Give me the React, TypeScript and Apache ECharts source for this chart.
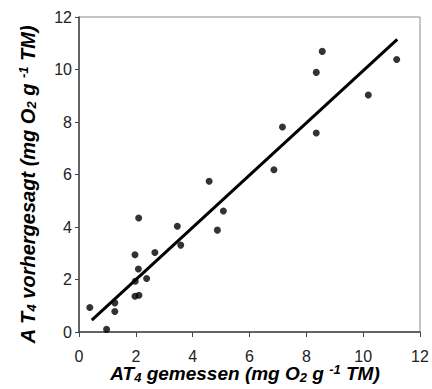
import React, { useEffect, useRef } from "react";
import * as echarts from "echarts";

const measured = [0.38, 0.97, 1.26, 1.26, 1.97, 1.98, 1.97, 2.11, 2.1, 2.09, 2.38, 2.67, 3.46, 3.58, 4.58, 4.87, 5.08, 6.86, 7.16, 8.35, 8.35, 8.56, 10.18, 11.18];
const predicted = [0.93, 0.1, 1.11, 0.78, 2.94, 1.93, 1.36, 1.4, 4.34, 2.4, 2.04, 3.03, 4.03, 3.31, 5.74, 3.88, 4.61, 6.18, 7.81, 9.89, 7.58, 10.69, 9.03, 10.38];
const fitX = [0.45, 11.2];
const fitY = [0.45, 11.15];

export default function App() {
  const ref = useRef<HTMLDivElement>(null);
  useEffect(() => {
    const chart = echarts.init(ref.current!, null, { renderer: "svg" });
    const base = { fontWeight: "bold", fontStyle: "italic", fontFamily: "Liberation Sans", color: "#000" };
    const mkRich = (fs: number) => ({
      b: { ...base, fontSize: fs },
      sub: { ...base, fontSize: Math.round(fs * 0.66), padding: [8, 0, 0, 0] },
      sup: { ...base, fontSize: Math.round(fs * 0.66), padding: [0, 0, 8, 0] },
    });
    const tickLabel = { fontSize: 16, color: "#222", fontFamily: "Liberation Sans", lineHeight: 16 };
    chart.setOption({
      animation: false,
      grid: {
        left: 79, right: 12, top: 17, bottom: 57,
        show: true, borderColor: "#8a8a8a", borderWidth: 1,
        containLabel: false, outerBoundsMode: "none",
      },
      xAxis: {
        type: "value", min: 0, max: 12, interval: 2,
        axisLine: { show: true, lineStyle: { color: "#444", width: 1.5 } },
        axisTick: { show: true, length: 5, lineStyle: { color: "#444" } },
        splitLine: { show: false },
        axisLabel: { ...tickLabel, margin: 16 },
        name: "{b|AT}{sub|4}{b| gemessen (mg O}{sub|2}{b| g }{sup|-1}{b| TM)}",
        nameLocation: "middle", nameGap: 31, nameMoveOverlap: false,
        nameTextStyle: { rich: mkRich(19), padding: [0, 9, 0, 0] },
      },
      yAxis: {
        type: "value", min: 0, max: 12, interval: 2,
        axisLine: { show: true, lineStyle: { color: "#444", width: 1.5 } },
        axisTick: { show: true, length: 4, lineStyle: { color: "#444" } },
        splitLine: { show: false },
        axisLabel: { ...tickLabel, margin: 7 },
        name: "{b|A T}{sub|4}{b| vorhergesagt (mg O}{sub|2}{b| g }{sup|-1}{b| TM)}",
        nameLocation: "middle", nameGap: 41, nameRotate: 90, nameMoveOverlap: false,
        nameTextStyle: { rich: mkRich(20), padding: [0, 20, 0, 0] },
      },
      series: [
        {
          type: "line",
          data: fitX.map((x, i) => [x, fitY[i]]),
          symbol: "none",
          lineStyle: { color: "#000", width: 3 },
          z: 1,
        },
        {
          type: "scatter",
          data: measured.map((x, i) => [x, predicted[i]]),
          symbol: "circle",
          symbolSize: 7,
          itemStyle: { color: "#000" },
          z: 2,
        },
      ],
    });
    return () => chart.dispose();
  }, []);
  return <div ref={ref} style={{ width: 432, height: 389, position: "absolute", left: 0, top: 0, background: "#fff" }} />;
}
